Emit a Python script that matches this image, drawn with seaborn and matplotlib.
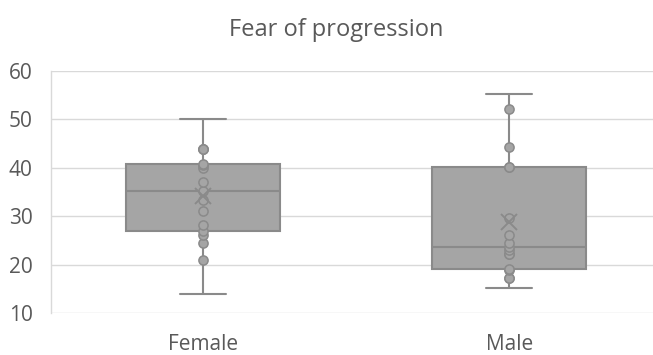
import numpy as np
import pandas as pd
import matplotlib
matplotlib.use("Agg")
import matplotlib.pyplot as plt
import seaborn as sns

# ---- data ----
categories = ["Female", "Male"]
female_values = [14.0, 21.0, 24.4, 26.1, 26.9, 28.2, 31.1, 33.3, 35.2, 37.1,
                 39.9, 40.5, 40.8, 43.8, 43.8, 43.8, 50.0]
male_values = [15.2, 17.2, 17.2, 18.9, 19.0, 22.2, 22.2, 23.0, 23.6, 24.4,
               26.1, 29.6, 40.1, 40.1, 44.4, 52.1, 55.2]
y_ticks = [10, 20, 30, 40, 50, 60]
title_text = "Fear of progression"

df = pd.DataFrame({
    "group": [categories[0]] * len(female_values) + [categories[1]] * len(male_values),
    "value": female_values + male_values,
})
df["group"] = pd.Categorical(df["group"], categories=categories, ordered=True)

# inner points: exclude the whisker ends (min / max of each group)
def inner(g):
    return g[(g["value"] > g["value"].min()) & (g["value"] < g["value"].max())]
inner_df = df.groupby("group", observed=True, group_keys=False).apply(inner)

sns.set_style("white")
plt.rcParams["font.family"] = ["Open Sans", "DejaVu Sans"]

FILL = "#a5a5a5"
EDGE = "#8a8a8a"
TXT = "#595959"
GRID = "#d9d9d9"

fig = plt.figure(figsize=(6.53, 3.55), dpi=100)
ax = fig.add_axes([50.5 / 653, 42 / 355, 611.5 / 653, 242 / 355])

sns.boxplot(
    data=df, x="group", y="value", ax=ax,
    whis=(0, 100), width=0.503, color=FILL, saturation=1,
    linecolor=EDGE, linewidth=1.5, showfliers=False,
    showmeans=True,
    meanprops=dict(marker="x", markeredgecolor=EDGE, markerfacecolor=EDGE,
                   markersize=11, markeredgewidth=1.4),
    capwidths=0.15, zorder=2,
)
sns.stripplot(
    data=inner_df, x="group", y="value", ax=ax, jitter=False,
    color=FILL, edgecolor=EDGE, linewidth=1.1, size=6.6, zorder=3,
)
for ln in ax.lines:
    if ln.get_marker() == "x":
        ln.set_zorder(5)

ax.set_xlim(-0.5, 1.5)
ax.set_ylim(10, 60)
ax.set_yticks(y_ticks)
ax.yaxis.grid(True, color=GRID, linewidth=1.0, zorder=0)
ax.set_axisbelow(True)
for s in ["top", "right", "bottom"]:
    ax.spines[s].set_visible(False)
ax.spines["left"].set_color(GRID)
ax.spines["left"].set_linewidth(1.0)
ax.tick_params(axis="both", length=0, colors=TXT, labelsize=15)
ax.tick_params(axis="y", pad=13)
ax.tick_params(axis="x", pad=15)
ax.set_xlabel("")
ax.set_ylabel("")

fig.text(336 / 653, 1 - 36 / 355, title_text, ha="center", va="baseline",
         fontsize=17, color=TXT)

fig.savefig("out.png", dpi=100)
